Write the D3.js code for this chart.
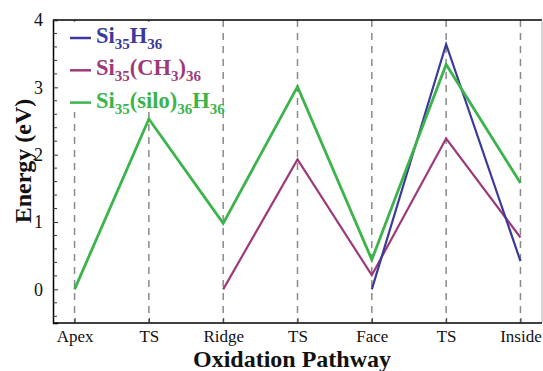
<!DOCTYPE html>
<html>
<head>
<meta charset="utf-8">
<script src="https://cdn.jsdelivr.net/npm/d3@7"></script>
<style>
  html, body { margin: 0; padding: 0; background: #fff; }
  svg { display: block; }
</style>
</head>
<body>
<svg id="chart" width="543" height="371"></svg>
<script>
// Oxidation pathway stages along the x axis
const stages = ["Apex", "TS", "Ridge", "TS", "Face", "TS", "Inside"];
const yTicks = [0, 1, 2, 3, 4];

// Energies (eV) at each stage; null where the system has no value
const siH = [null, null, null, null, 0.0, 3.64, 0.42];
const siCH3 = [null, null, 0.0, 1.93, 0.21, 2.24, 0.77];
const siSilo = [0.0, 2.53, 0.98, 3.01, 0.44, 3.34, 1.58];

const series = [
  { name: "siCH3", values: siCH3, color: "#9c3b78", width: 2.2 },
  { name: "siH", values: siH, color: "#3b3a9a", width: 2.2 },
  { name: "siSilo", values: siSilo, color: "#3cb44b", width: 2.8 }
];

const FONT = "\"Liberation Serif\", \"Times New Roman\", serif";
const svg = d3.select("#chart").style("font-family", FONT);
const plotL = 53, plotR = 542, plotT = 20, plotB = 323;

const x = d3.scalePoint().domain(d3.range(stages.length)).range([plotL, plotR]).padding(0.29);
const y = d3.scaleLinear().domain([-0.5, 4]).range([plotB, plotT]);

// Vertical dashed guides at each stage
svg.append("g").selectAll("line")
  .data(d3.range(stages.length))
  .join("line")
  .attr("x1", d => x(d)).attr("x2", d => x(d))
  .attr("y1", plotT).attr("y2", plotB)
  .attr("stroke", "#8a8a8a").attr("stroke-width", 1.5)
  .attr("stroke-dasharray", "7,6");

// Energy profiles
const line = d3.line()
  .defined(d => d.v !== null)
  .x(d => x(d.i))
  .y(d => y(d.v));

svg.append("g").selectAll("path")
  .data(series)
  .join("path")
  .attr("d", s => line(s.values.map((v, i) => ({ i, v }))))
  .attr("fill", "none")
  .attr("stroke", s => s.color)
  .attr("stroke-width", s => s.width)
  .attr("stroke-linejoin", "miter");

// Frame: top black, right grey
svg.append("line").attr("x1", plotL).attr("x2", plotR).attr("y1", plotT).attr("y2", plotT)
  .attr("stroke", "#000").attr("stroke-width", 1.5);
svg.append("line").attr("x1", plotR).attr("x2", plotR).attr("y1", plotT).attr("y2", plotB)
  .attr("stroke", "#b0b0b0").attr("stroke-width", 1);

// Left axis with inward ticks and minor ticks every 0.2
const yAxis = d3.axisLeft(y).tickValues(yTicks).tickSize(-5).tickPadding(10).tickFormat(d3.format("d"));
const gy = svg.append("g").attr("transform", `translate(${plotL},0)`).call(yAxis);
gy.attr("font-family", null);
gy.select(".domain").attr("stroke", "#000").attr("stroke-width", 1.5);
gy.selectAll(".tick text").attr("font-size", 18).attr("fill", "#111").style("font-family", FONT);
gy.selectAll(".tick line").attr("stroke", "#333");
const minor = d3.range(-0.4, 4.0001, 0.2).filter(v => Math.abs(v - Math.round(v)) > 0.01);
gy.append("g").selectAll("line").data(minor).join("line")
  .attr("x1", 0).attr("x2", 4).attr("y1", d => y(d)).attr("y2", d => y(d))
  .attr("stroke", "#333");

// Bottom axis with stage labels
const xAxis = d3.axisBottom(x).tickFormat(i => stages[i]).tickSize(-5).tickPadding(7);
const gx = svg.append("g").attr("transform", `translate(0,${plotB})`).call(xAxis);
gx.attr("font-family", null);
gx.select(".domain").attr("d", `M${plotL},0H${plotR}`).attr("stroke", "#000").attr("stroke-width", 1.5);
gx.selectAll(".tick text").attr("font-size", 17).attr("fill", "#111").style("font-family", FONT);
gx.selectAll(".tick line").attr("stroke", "#333");

// Axis titles
svg.append("text")
  .attr("x", 292).attr("y", 367)
  .attr("text-anchor", "middle")
  .attr("font-size", 24).attr("font-weight", "bold").attr("fill", "#111")
  .style("font-family", FONT)
  .text("Oxidation Pathway");
svg.append("text")
  .attr("transform", "translate(31,161) rotate(-90)")
  .attr("text-anchor", "middle")
  .attr("font-size", 24).attr("font-weight", "bold").attr("fill", "#111")
  .style("font-family", FONT)
  .text("Energy (eV)");

// Legend on a white panel
const legend = svg.append("g");
legend.append("rect").attr("x", 60).attr("y", 22).attr("width", 140).attr("height", 90).attr("fill", "#fff");

const legendItems = [
  { color: "#3b3a9a", parts: [["Si", 0], ["35", 1], ["H", 0], ["36", 1]] },
  { color: "#9c3b78", parts: [["Si", 0], ["35", 1], ["(CH", 0], ["3", 1], [")", 0], ["36", 1]] },
  { color: "#3cb44b", parts: [["Si", 0], ["35", 1], ["(silo)", 0], ["36", 1], ["H", 0], ["36", 1]] }
];
legendItems.forEach((item, k) => {
  const ly = 38 + k * 32.3;
  legend.append("line").attr("x1", 70).attr("x2", 91).attr("y1", ly).attr("y2", ly)
    .attr("stroke", item.color).attr("stroke-width", 2.5);
  const t = legend.append("text").attr("x", 96).attr("y", ly + 5)
    .attr("font-size", 22.5).attr("font-weight", "bold").attr("fill", item.color)
    .style("font-family", FONT);
  let sub = false;
  item.parts.forEach(([txt, isSub]) => {
    const span = t.append("tspan").text(txt);
    if (isSub && !sub) { span.attr("dy", 6).attr("font-size", 15); sub = true; }
    else if (isSub) { span.attr("font-size", 15); }
    else if (sub) { span.attr("dy", -6); sub = false; }
  });
});
</script>
</body>
</html>
